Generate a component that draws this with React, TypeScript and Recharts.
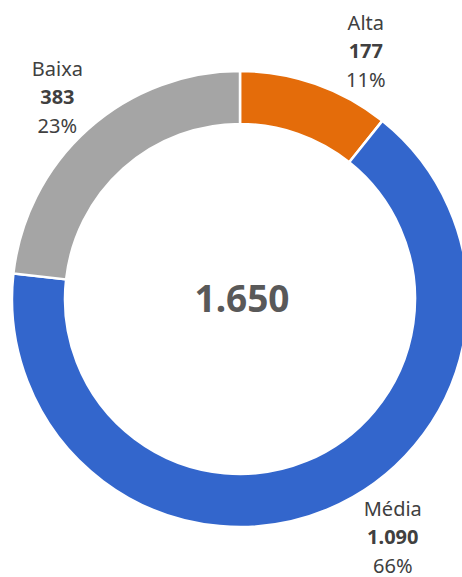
import React from 'react';
import { PieChart, Pie, Cell } from 'recharts';

// Dados do gráfico
const categories = ['Alta', 'Média', 'Baixa'];
const values = [177, 1090, 383];
const colors = ['#E46C0A', '#3366CC', '#A5A5A5'];

// ajuste fino da posição dos rótulos (graus, distância além do raio externo)
const labelNudge: Record<string, [number, number]> = {
  Alta: [-7.6, 50],
  Média: [10.2, 55],
  Baixa: [0.4, 44],
};

const RADIAN = Math.PI / 180;
const FONT = '"Noto Sans", "Open Sans", sans-serif';
const W = 462;
const H = 577;
const CX = 240;
const CY = 299;

const formatNumber = (n: number) => String(n).replace(/\B(?=(\d{3})+(?!\d))/g, '.');

const data = categories.map((name, i) => ({ name, value: values[i], color: colors[i] }));
const total = values.reduce((s, v) => s + v, 0);

const renderLabel = (props: any) => {
  const { cx, cy, midAngle, outerRadius, name, value, percent } = props;
  const [da, dr] = labelNudge[name] || [0, 40];
  const angle = midAngle + da;
  const r = outerRadius + dr;
  const x = cx + r * Math.cos(-angle * RADIAN);
  const y = cy + r * Math.sin(-angle * RADIAN);
  const lh = 28.5;
  return (
    <g>
      <text x={x} y={y - lh + 7} textAnchor="middle" fill="#404040" fontSize={20} fontFamily={FONT}>
        {name}
      </text>
      <text x={x} y={y + 7} textAnchor="middle" fill="#404040" fontSize={20} fontWeight="bold" fontFamily={FONT}>
        {formatNumber(value)}
      </text>
      <text x={x} y={y + lh + 7} textAnchor="middle" fill="#404040" fontSize={20} fontFamily={FONT}>
        {`${Math.round(percent * 100)}%`}
      </text>
    </g>
  );
};

const App: React.FC = () => {
  return (
    <div style={{ position: 'absolute', left: 0, top: 0, width: W, height: H, background: '#fff' }}>
      <PieChart width={W} height={H} margin={{ top: 0, right: 0, bottom: 0, left: 0 }}>
        <Pie
          data={data}
          dataKey="value"
          nameKey="name"
          cx={CX}
          cy={CY}
          innerRadius={175}
          outerRadius={228}
          startAngle={90}
          endAngle={-270}
          stroke="#FFFFFF"
          strokeWidth={2.5}
          label={renderLabel}
          labelLine={false}
          isAnimationActive={false}
        >
          {data.map((entry, index) => (
            <Cell key={`cell-${index}`} fill={entry.color} />
          ))}
        </Pie>
      </PieChart>
      {/* total no centro do anel */}
      <svg
        width={W}
        height={H}
        style={{ position: 'absolute', left: 0, top: 0, pointerEvents: 'none' }}
      >
        <text
          x={CX + 2}
          y={CY + 13}
          textAnchor="middle"
          fill="#595959"
          fontSize={37}
          fontWeight="bold"
          fontFamily={FONT}
        >
          {formatNumber(total)}
        </text>
      </svg>
    </div>
  );
};

export default App;
